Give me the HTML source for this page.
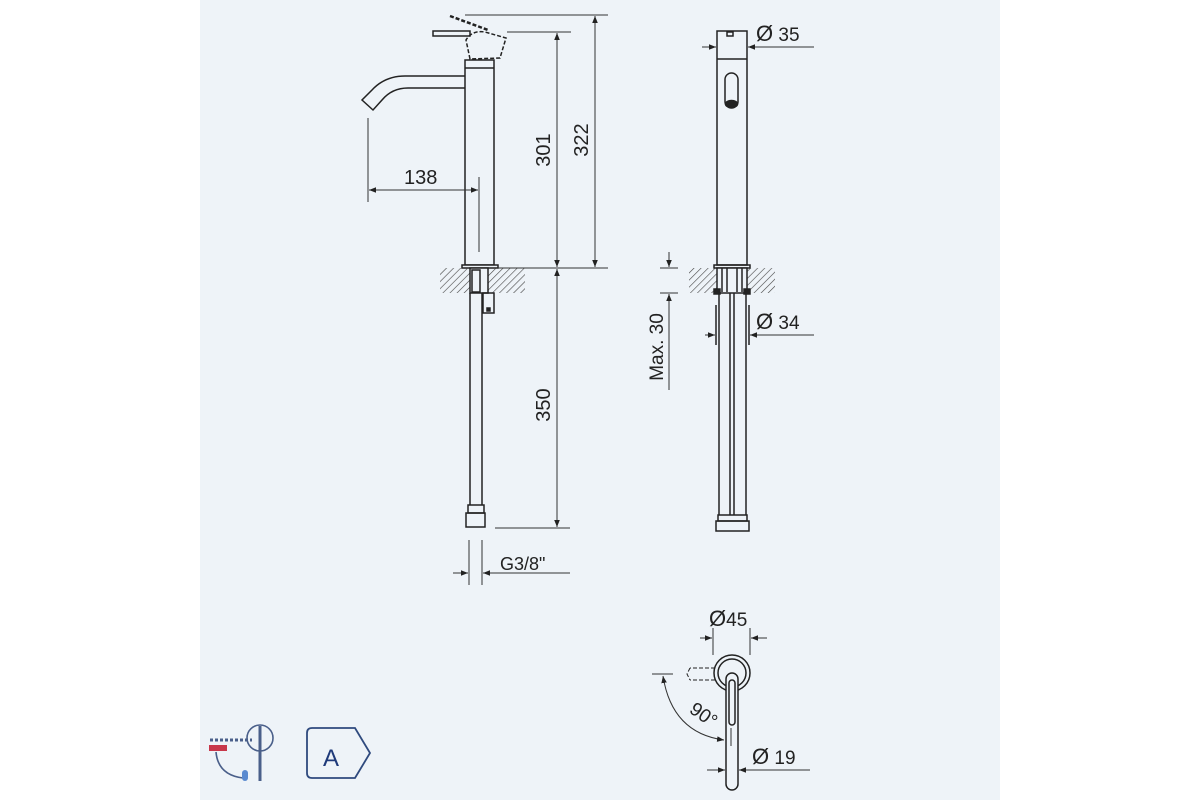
<!DOCTYPE html>
<html><head><meta charset="utf-8"><style>
html,body{margin:0;padding:0;background:#fff;width:1200px;height:800px;overflow:hidden}
svg{display:block}
text{font-family:"Liberation Sans",sans-serif;fill:#222}
</style></head><body>
<svg width="1200" height="800" viewBox="0 0 1200 800">
<defs>
<pattern id="h" width="5" height="5" patternUnits="userSpaceOnUse" patternTransform="rotate(45)">
<line x1="0" y1="0" x2="0" y2="5" stroke="#444" stroke-width="1.2"/></pattern>
<marker id="a" viewBox="0 0 10 10" refX="10" refY="5" markerWidth="7" markerHeight="7" orient="auto-start-reverse"><path d="M0,1 L10,5 L0,9z" fill="#222"/></marker>
</defs>
<rect x="200" y="0" width="800" height="800" fill="#eef3f8"/>
<g stroke="#222" stroke-width="1.5" fill="none">
<path d="M465,60 L494,60 L494,265 L465,265 Z" fill="#eef3f8"/>
<line x1="465" y1="68" x2="494" y2="68"/>
<path d="M465,76 L405,76 Q385,76 372,90 L362,100 L373,110 L382,100 Q392,88 408,88 L465,88"/>
<path d="M470,59 L466,40 Q472,30 485,32 L506,38 L500,58 Z" stroke-dasharray="4,2"/>
<path d="M450,16 L488,30" stroke-dasharray="4,2" stroke-width="2.5"/>
<rect x="433" y="31" width="37" height="5"/>
<rect x="462" y="265" width="36" height="3" fill="#eef3f8"/>
<rect x="440" y="268" width="85" height="25" fill="url(#h)" stroke="none"/>
<rect x="470" y="268" width="18" height="25" fill="#eef3f8"/>
<rect x="472" y="270" width="8" height="22"/>
<line x1="470" y1="293" x2="470" y2="505"/><line x1="482" y1="293" x2="482" y2="505"/>
<rect x="483" y="293" width="11" height="20"/>
<rect x="487" y="308" width="3" height="3" fill="#222"/>
<rect x="468" y="505" width="16" height="8"/>
<rect x="466" y="513" width="19" height="14"/>
<g stroke-width="1" stroke="#333">
<line x1="465" y1="15" x2="608" y2="15"/>
<line x1="507" y1="32" x2="571" y2="32"/>
<line x1="498" y1="268" x2="608" y2="268"/>
<line x1="557" y1="33" x2="557" y2="267" marker-start="url(#a)" marker-end="url(#a)"/>
<line x1="595" y1="16" x2="595" y2="267" marker-start="url(#a)" marker-end="url(#a)"/>
<line x1="557" y1="269" x2="557" y2="527" marker-start="url(#a)" marker-end="url(#a)"/>
<line x1="495" y1="528" x2="570" y2="528"/>
<line x1="368" y1="118" x2="368" y2="202"/>
<line x1="479" y1="177" x2="479" y2="252"/>
<line x1="369" y1="190" x2="478" y2="190" marker-start="url(#a)" marker-end="url(#a)"/>
<line x1="469" y1="540" x2="469" y2="585"/><line x1="482" y1="540" x2="482" y2="585"/>
<line x1="453" y1="573" x2="468" y2="573" marker-end="url(#a)"/>
<line x1="570" y1="573" x2="483" y2="573" marker-end="url(#a)"/>
</g>
<rect x="717" y="31" width="30" height="234"/>
<line x1="717" y1="59" x2="747" y2="59"/>
<rect x="727" y="32" width="6" height="4"/>
<rect x="725" y="73" width="13" height="35" rx="6.5"/>
<ellipse cx="731.5" cy="104" rx="6" ry="3.5" fill="#222"/>
<rect x="714" y="265" width="36" height="3"/>
<rect x="689" y="268" width="86" height="25" fill="url(#h)" stroke="none"/>
<rect x="717" y="268" width="30" height="25" fill="#eef3f8"/>
<line x1="722" y1="268" x2="722" y2="292"/><line x1="727" y1="268" x2="727" y2="292"/><line x1="737" y1="268" x2="737" y2="292"/><line x1="742" y1="268" x2="742" y2="292"/>
<rect x="714" y="289" width="6" height="5" fill="#222"/><rect x="744" y="289" width="6" height="5" fill="#222"/>
<line x1="719" y1="293" x2="719" y2="515"/><line x1="746" y1="293" x2="746" y2="515"/>
<line x1="730" y1="293" x2="730" y2="515"/><line x1="734" y1="293" x2="734" y2="515"/>
<line x1="716" y1="305" x2="716" y2="345"/><line x1="749" y1="305" x2="749" y2="345"/>
<rect x="718" y="515" width="29" height="6"/>
<rect x="716" y="521" width="33" height="10"/>
<g stroke-width="1" stroke="#333">
<line x1="702" y1="47" x2="716" y2="47" marker-end="url(#a)"/>
<line x1="814" y1="47" x2="748" y2="47" marker-end="url(#a)"/>
<line x1="705" y1="335" x2="715" y2="335" marker-end="url(#a)"/>
<line x1="814" y1="335" x2="750" y2="335" marker-end="url(#a)"/>
<line x1="669" y1="252" x2="669" y2="267" marker-end="url(#a)"/>
<line x1="669" y1="390" x2="669" y2="294" marker-end="url(#a)"/>
<line x1="660" y1="268" x2="678" y2="268"/><line x1="660" y1="293" x2="678" y2="293"/>
</g>
<circle cx="732" cy="673" r="18"/>
<circle cx="732" cy="673" r="14"/>
<path d="M715,668 L690,668 M715,680 L690,680 M690,668 L687,674 L690,680" stroke-dasharray="4,2" stroke-width="1"/>
<rect x="726" y="673" width="12" height="117" rx="6" fill="#eef3f8"/>
<rect x="729" y="680" width="6" height="45" rx="3"/>
<g stroke-width="1" stroke="#333">
<line x1="713" y1="628" x2="713" y2="655"/><line x1="750" y1="628" x2="750" y2="655"/>
<line x1="700" y1="638" x2="712" y2="638" marker-end="url(#a)"/>
<line x1="767" y1="638" x2="751" y2="638" marker-end="url(#a)"/>
<line x1="652" y1="674" x2="673" y2="674"/>
<path d="M663,676 Q672,733 724,740" marker-start="url(#a)" marker-end="url(#a)"/>
<line x1="731" y1="728" x2="731" y2="746"/>
<line x1="707" y1="770" x2="725" y2="770" marker-end="url(#a)"/>
<line x1="810" y1="770" x2="739" y2="770" marker-end="url(#a)"/>
</g>
</g>
<text x="404" y="184" font-size="20">138</text>
<text transform="translate(550,150) rotate(-90)" font-size="20" text-anchor="middle">301</text>
<text transform="translate(588,140) rotate(-90)" font-size="20" text-anchor="middle">322</text>
<text transform="translate(550,405) rotate(-90)" font-size="20" text-anchor="middle">350</text>
<text x="500" y="570" font-size="18">G3/8"</text>
<text x="756" y="41" font-size="22">Ø<tspan font-size="19"> 35</tspan></text>
<text x="756" y="329" font-size="22">Ø<tspan font-size="19"> 34</tspan></text>
<text transform="translate(663,347) rotate(-90)" font-size="19" text-anchor="middle">Max. 30</text>
<text x="709" y="626" font-size="22">Ø<tspan font-size="19">45</tspan></text>
<text x="752" y="764" font-size="22">Ø<tspan font-size="19"> 19</tspan></text>
<text transform="translate(700,720) rotate(35)" font-size="19" text-anchor="middle">90°</text>
<g fill="none" stroke="#4a5f8a" stroke-width="1.6">
<circle cx="260" cy="738" r="13"/>
<line x1="260" y1="726" x2="260" y2="781" stroke-width="3"/>
<line x1="210" y1="740" x2="252" y2="740" stroke-dasharray="3,2" stroke-width="3"/>
<path d="M216,752 Q218,775 243,778"/>
<path d="M307,733 Q307,728 312,728 L355,728 L370,753 L355,778 L312,778 Q307,778 307,773 Z" stroke="#2f4a7e" stroke-width="1.8"/>
</g>
<rect x="209" y="745" width="18" height="6" fill="#c8374a"/>
<rect x="242" y="770" width="6" height="11" rx="3" fill="#5a8ad0"/>
<text x="331" y="766" font-size="24" text-anchor="middle" style="fill:#1f3a7a">A</text>
</svg>
</body></html>
